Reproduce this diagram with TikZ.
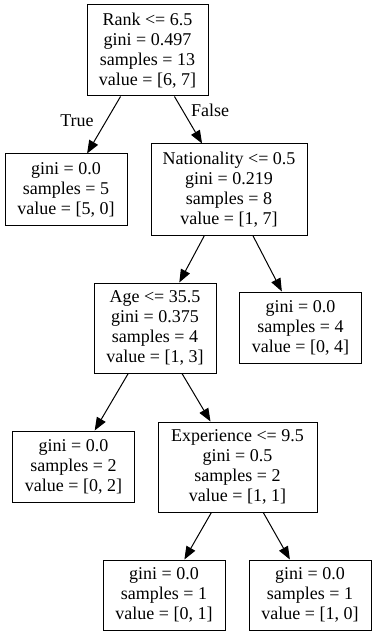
\documentclass[tikz,border=0pt]{standalone}
\usepackage{fontspec}
\setmainfont{Liberation Serif}
\usepackage{tikz}
\usetikzlibrary{arrows.meta, positioning}

\begin{document}
\begin{tikzpicture}[
    x=1pt, y=-1pt,
    split/.style={draw, line width=1pt, align=center, inner sep=0pt, minimum height=91pt, font=\fontsize{18}{20}\selectfont},
    leaf/.style={draw, line width=1pt, align=center, inner sep=0pt, minimum width=122pt, minimum height=71pt, font=\fontsize{18}{20}\selectfont},
    edge/.style={line width=1pt, -{Triangle[length=13pt, width=10pt]}},
    lbl/.style={font=\fontsize{18}{20}\selectfont},
]
    \useasboundingbox (0,0) rectangle (376,636);

    % Root split
    \node[split, minimum width=121pt] (rank) at (147.5, 50.5) {Rank <= 6.5\\gini = 0.497\\samples = 13\\value = [6, 7]};
    \node[leaf] (leafa) at (66, 189.5) {gini = 0.0\\samples = 5\\value = [5, 0]};
    \node[split, minimum width=156pt] (nat) at (229, 189.5) {Nationality <= 0.5\\gini = 0.219\\samples = 8\\value = [1, 7]};

    % Second level
    \node[split, minimum width=122pt, minimum height=90pt] (age) at (155, 328) {Age <= 35.5\\gini = 0.375\\samples = 4\\value = [1, 3]};
    \node[leaf] (leafb) at (300.5, 327.5) {gini = 0.0\\samples = 4\\value = [0, 4]};

    % Third level
    \node[leaf] (leafc) at (73.5, 466.5) {gini = 0.0\\samples = 2\\value = [0, 2]};
    \node[split, minimum width=159pt, minimum height=90pt] (exp) at (237.5, 467) {Experience <= 9.5\\gini = 0.5\\samples = 2\\value = [1, 1]};

    % Bottom leaves
    \node[leaf, minimum height=70pt] (leafd) at (164, 595) {gini = 0.0\\samples = 1\\value = [0, 1]};
    \node[leaf, minimum height=70pt] (leafe) at (310, 595) {gini = 0.0\\samples = 1\\value = [1, 0]};

    % Edges
    \draw[edge] (rank) -- (leafa);
    \draw[edge] (rank) -- (nat);
    \draw[edge] (nat) -- (age);
    \draw[edge] (nat) -- (leafb);
    \draw[edge] (age) -- (leafc);
    \draw[edge] (age) -- (exp);
    \draw[edge] (exp) -- (leafd);
    \draw[edge] (exp) -- (leafe);

    % Edge labels
    \node[lbl] (ltrue) at (77, 121) {True};
    \node[lbl] (lfalse) at (210, 110) {False};
\end{tikzpicture}
\end{document}
